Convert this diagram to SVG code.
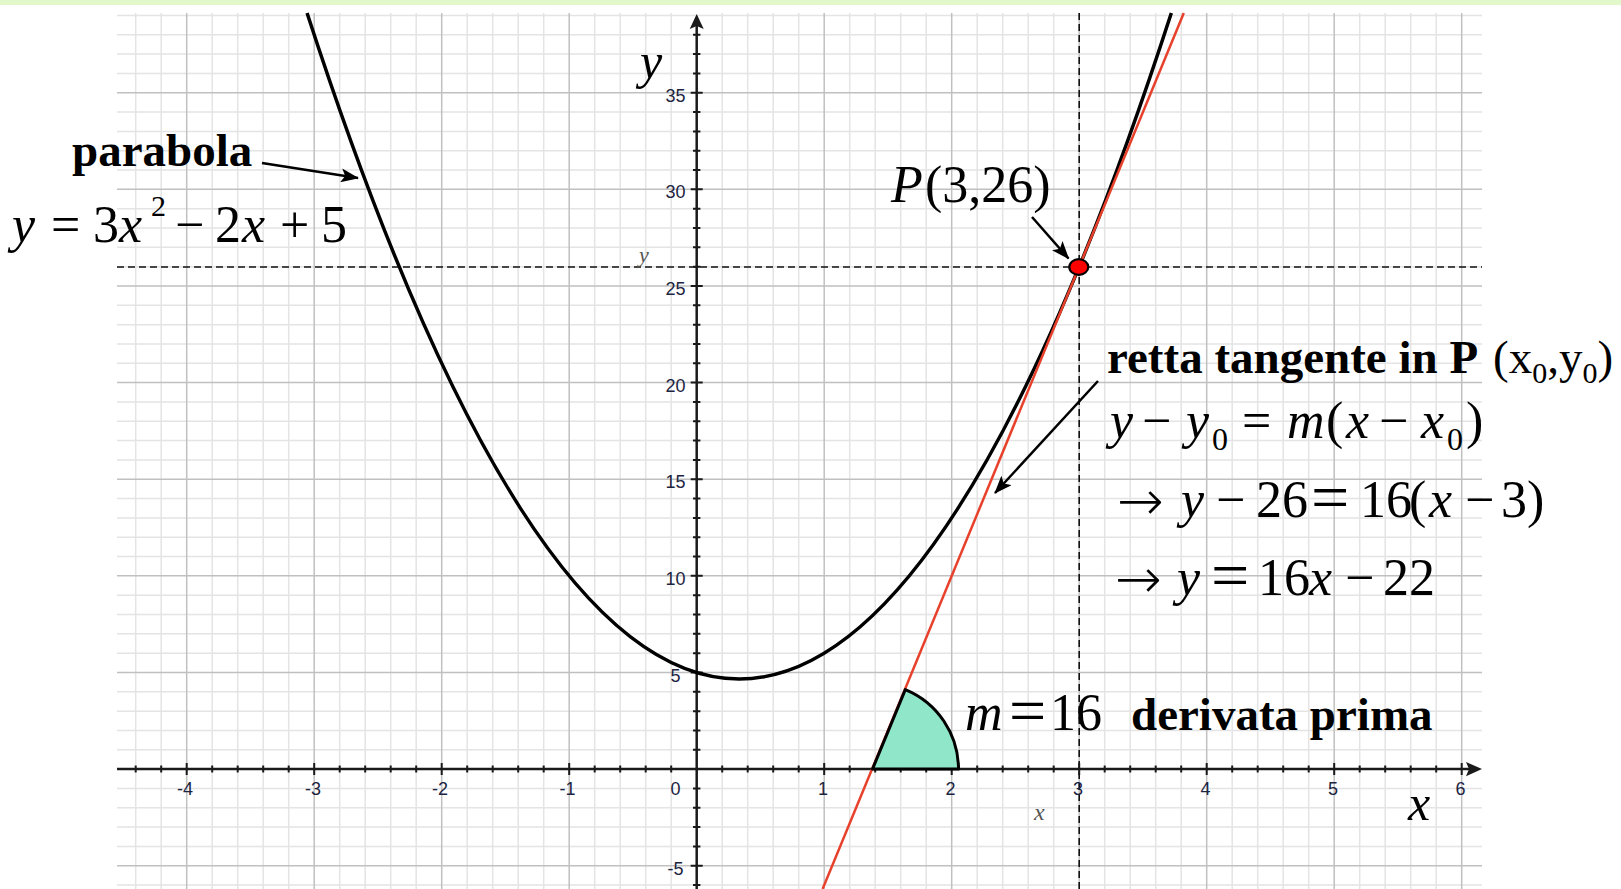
<svg xmlns="http://www.w3.org/2000/svg" width="1621" height="889" viewBox="0 0 1621 889">
<defs>
<style>
.minor{stroke:#e4e4e4;stroke-width:1.5;fill:none}
.major{stroke:#c0c0c0;stroke-width:1.5;fill:none}
.axis{stroke:#1a1a1a;stroke-width:2.5;fill:none}
.tick{stroke:#1a1a1a;stroke-width:2;fill:none}
.dash{stroke:#111;stroke-width:1.6;stroke-dasharray:7 4;fill:none}
.lbl{font-family:"Liberation Sans",Arial,Helvetica,sans-serif;font-size:18px;fill:#1c2440;text-anchor:middle}
.serif{font-family:"Liberation Serif","Times New Roman",serif;fill:#000}
.bold{font-weight:bold;font-size:47px}
.it{font-style:italic}
.arr{font-family:"DejaVu Sans",sans-serif;font-weight:200;font-size:56px}
.small{font-family:"Liberation Serif","Times New Roman",serif;font-style:italic;fill:#555}
.arrow{stroke:#000;stroke-width:2.5;fill:none;marker-end:url(#ah)}
</style>
<marker id="ah" markerUnits="userSpaceOnUse" markerWidth="18" markerHeight="14" refX="17" refY="7" orient="auto">
<path d="M0,0 L18,7 L0,14 L4,7 Z" fill="#000"/>
</marker>
</defs>
<rect x="0" y="0" width="1621" height="889" fill="#fff"/>
<rect x="0" y="0" width="1621" height="5" fill="#e2f8cb"/>

<g id="grid">
<path class="minor" d="M117,885.05H1482M117,846.4H1482M117,827.08H1482M117,807.75H1482M117,788.43H1482M117,749.78H1482M117,730.45H1482M117,711.13H1482M117,691.8H1482M117,653.15H1482M117,633.83H1482M117,614.5H1482M117,595.18H1482M117,556.53H1482M117,537.2H1482M117,517.88H1482M117,498.55H1482M117,459.9H1482M117,440.58H1482M117,421.25H1482M117,401.93H1482M117,363.28H1482M117,343.95H1482M117,324.63H1482M117,305.3H1482M117,266.65H1482M117,247.33H1482M117,228H1482M117,208.68H1482M117,170.03H1482M117,150.7H1482M117,131.38H1482M117,112.05H1482M117,73.4H1482M117,54.08H1482M117,34.75H1482M117,15.43H1482"/>
<path class="minor" d="M135.7,13V889M161.2,13V889M212.2,13V889M237.7,13V889M263.2,13V889M288.7,13V889M339.7,13V889M365.2,13V889M390.7,13V889M416.2,13V889M467.2,13V889M492.7,13V889M518.2,13V889M543.7,13V889M594.7,13V889M620.2,13V889M645.7,13V889M671.2,13V889M722.2,13V889M747.7,13V889M773.2,13V889M798.7,13V889M849.7,13V889M875.2,13V889M900.7,13V889M926.2,13V889M977.2,13V889M1002.7,13V889M1028.2,13V889M1053.7,13V889M1104.7,13V889M1130.2,13V889M1155.7,13V889M1181.2,13V889M1232.2,13V889M1257.7,13V889M1283.2,13V889M1308.7,13V889M1359.7,13V889M1385.2,13V889M1410.7,13V889M1436.2,13V889"/>
<path class="major" d="M117,865.73H1482M117,672.48H1482M117,575.85H1482M117,479.23H1482M117,382.6H1482M117,285.98H1482M117,189.35H1482M117,92.73H1482"/>
<path class="major" d="M186.7,13V889M314.2,13V889M441.7,13V889M569.2,13V889M824.2,13V889M951.7,13V889M1079.2,13V889M1206.7,13V889M1334.2,13V889M1461.7,13V889"/>
</g>

<g id="guides">
<path class="dash" d="M117,267H1482"/>
<path class="dash" d="M1079.2,13V889"/>
</g>

<g id="axes">
<path class="axis" d="M117,769.1H1470"/>
<path d="M1482,769.1 L1466,762 L1469,769.1 L1466,776.2 Z" fill="#1a1a1a"/>
<path class="axis" d="M696.7,889V26"/>
<path d="M696.7,14 L689.7,29 L696.7,26 L703.7,29 Z" fill="#1a1a1a"/>
<path class="tick" d="M135.7,765.6V772.6M161.2,765.6V772.6M212.2,765.6V772.6M237.7,765.6V772.6M263.2,765.6V772.6M288.7,765.6V772.6M339.7,765.6V772.6M365.2,765.6V772.6M390.7,765.6V772.6M416.2,765.6V772.6M467.2,765.6V772.6M492.7,765.6V772.6M518.2,765.6V772.6M543.7,765.6V772.6M594.7,765.6V772.6M620.2,765.6V772.6M645.7,765.6V772.6M671.2,765.6V772.6M722.2,765.6V772.6M747.7,765.6V772.6M773.2,765.6V772.6M798.7,765.6V772.6M849.7,765.6V772.6M875.2,765.6V772.6M900.7,765.6V772.6M926.2,765.6V772.6M977.2,765.6V772.6M1002.7,765.6V772.6M1028.2,765.6V772.6M1053.7,765.6V772.6M1104.7,765.6V772.6M1130.2,765.6V772.6M1155.7,765.6V772.6M1181.2,765.6V772.6M1232.2,765.6V772.6M1257.7,765.6V772.6M1283.2,765.6V772.6M1308.7,765.6V772.6M1359.7,765.6V772.6M1385.2,765.6V772.6M1410.7,765.6V772.6M1436.2,765.6V772.6"/>
<path class="tick" d="M186.7,763V775M314.2,763V775M441.7,763V775M569.2,763V775M824.2,763V775M951.7,763V775M1079.2,763V775M1206.7,763V775M1334.2,763V775M1461.7,763V775"/>
<path class="tick" d="M693,885.05H700.4M693,846.4H700.4M693,827.08H700.4M693,807.75H700.4M693,788.43H700.4M693,749.78H700.4M693,730.45H700.4M693,711.13H700.4M693,691.8H700.4M693,653.15H700.4M693,633.83H700.4M693,614.5H700.4M693,595.18H700.4M693,556.53H700.4M693,537.2H700.4M693,517.88H700.4M693,498.55H700.4M693,459.9H700.4M693,440.58H700.4M693,421.25H700.4M693,401.93H700.4M693,363.28H700.4M693,343.95H700.4M693,324.63H700.4M693,305.3H700.4M693,266.65H700.4M693,247.33H700.4M693,228H700.4M693,208.68H700.4M693,170.03H700.4M693,150.7H700.4M693,131.38H700.4M693,112.05H700.4M693,73.4H700.4M693,54.08H700.4M693,34.75H700.4"/>
<path class="tick" d="M690.7,865.73H702.7M690.7,672.48H702.7M690.7,575.85H702.7M690.7,479.23H702.7M690.7,382.6H702.7M690.7,285.98H702.7M690.7,189.35H702.7M690.7,92.73H702.7"/>
</g>

<g id="tick-labels">
<text class="lbl" x="185" y="795">-4</text>
<text class="lbl" x="313" y="795">-3</text>
<text class="lbl" x="440" y="795">-2</text>
<text class="lbl" x="567.5" y="795">-1</text>
<text class="lbl" x="675.5" y="795">0</text>
<text class="lbl" x="823" y="795">1</text>
<text class="lbl" x="950.5" y="795">2</text>
<text class="lbl" x="1078" y="795">3</text>
<text class="lbl" x="1205.5" y="795">4</text>
<text class="lbl" x="1333" y="795">5</text>
<text class="lbl" x="1460.5" y="795">6</text>
<text class="lbl" x="675.5" y="101.7">35</text>
<text class="lbl" x="675.5" y="198.3">30</text>
<text class="lbl" x="675.5" y="295">25</text>
<text class="lbl" x="675.5" y="391.6">20</text>
<text class="lbl" x="675.5" y="488.2">15</text>
<text class="lbl" x="675.5" y="584.9">10</text>
<text class="lbl" x="675.5" y="681.5">5</text>
<text class="lbl" x="675.5" y="874.7">-5</text>
<text class="small" x="639" y="262" font-size="22">y</text>
<text class="small" x="1034" y="820" font-size="24">x</text>
</g>

<g id="parabola">
<path d="M307.06,13 Q739.2,1345 1171.34,13" fill="none" stroke="#000" stroke-width="3.5"/>
</g>

<g id="tangent">
<path d="M1183.8,13 L822.6,889" fill="none" stroke="#e8412b" stroke-width="2.5"/>
</g>

<g id="angle">
<path d="M872.5,769.1 L958.5,769.1 A86,86 0 0 0 905.3,689.6 Z" fill="#8fe6c8" stroke="#000" stroke-width="3" stroke-linejoin="round"/>
</g>

<g id="point-P">
<ellipse cx="1078.8" cy="267" rx="9.5" ry="7.8" fill="#f00" stroke="#000" stroke-width="2.2"/>
</g>

<g id="connectors">
<line class="arrow" x1="262" y1="163" x2="358" y2="178"/>
<line class="arrow" x1="1032" y1="217" x2="1068.5" y2="258.5"/>
<line class="arrow" x1="1098" y1="381" x2="995" y2="493"/>
</g>

<g id="label-parabola">
<text class="serif bold" x="72" y="166">parabola</text>
<text class="serif" font-size="52" y="241.7"><tspan class="it" x="12">y</tspan><tspan x="51">=</tspan><tspan x="93">3</tspan><tspan class="it" x="119">x</tspan><tspan x="151" y="216" font-size="30">2</tspan><tspan x="175" y="241.7">−</tspan><tspan x="215">2</tspan><tspan class="it" x="242">x</tspan><tspan x="280">+</tspan><tspan x="321">5</tspan></text>
</g>

<g id="axis-names">
<text class="serif it" x="640" y="78" font-size="50">y</text>
<text class="serif it" x="1408" y="820" font-size="50">x</text>
</g>

<g id="label-P">
<text class="serif" font-size="52" y="202"><tspan class="it" x="891">P</tspan><tspan x="925">(3,26)</tspan></text>
</g>

<g id="label-tangent">
<text class="serif" y="373"><tspan class="bold" x="1107">retta tangente in P</tspan><tspan font-size="47" x="1493">(x</tspan><tspan font-size="30" y="383">0</tspan><tspan font-size="47" y="373">,y</tspan><tspan font-size="30" y="383">0</tspan><tspan font-size="47" y="373">)</tspan></text>
<text class="serif" font-size="52" y="438"><tspan class="it" x="1110">y</tspan><tspan x="1142">−</tspan><tspan class="it" x="1186">y</tspan><tspan x="1212" y="450" font-size="32">0</tspan><tspan x="1242" y="438">=</tspan><tspan class="it" x="1287">m</tspan><tspan x="1326">(</tspan><tspan class="it" x="1346">x</tspan><tspan x="1379">−</tspan><tspan class="it" x="1421">x</tspan><tspan x="1447" y="450" font-size="32">0</tspan><tspan x="1466" y="438">)</tspan></text>
<text class="serif" font-size="52" y="517"><tspan class="arr" x="1117" y="520">→</tspan><tspan class="it" x="1181" y="517">y</tspan><tspan x="1216">−</tspan><tspan x="1256">26</tspan><tspan x="1311" y="520" font-size="68">=</tspan><tspan x="1360" y="517">16</tspan><tspan x="1409">(</tspan><tspan class="it" x="1429">x</tspan><tspan x="1465">−</tspan><tspan x="1501">3</tspan><tspan x="1527">)</tspan></text>
<text class="serif" font-size="52" y="595"><tspan class="arr" x="1115" y="598">→</tspan><tspan class="it" x="1177" y="595">y</tspan><tspan x="1211" y="598" font-size="68">=</tspan><tspan x="1258" y="595">16</tspan><tspan class="it" x="1309">x</tspan><tspan x="1345">−</tspan><tspan x="1383">22</tspan></text>
</g>

<g id="label-slope">
<text class="serif" font-size="52" y="730"><tspan class="it" x="965">m</tspan><tspan x="1009" y="733" font-size="66">=</tspan><tspan x="1050" y="730">16</tspan></text>
<text class="serif bold" x="1131" y="730">derivata prima</text>
</g>
</svg>
